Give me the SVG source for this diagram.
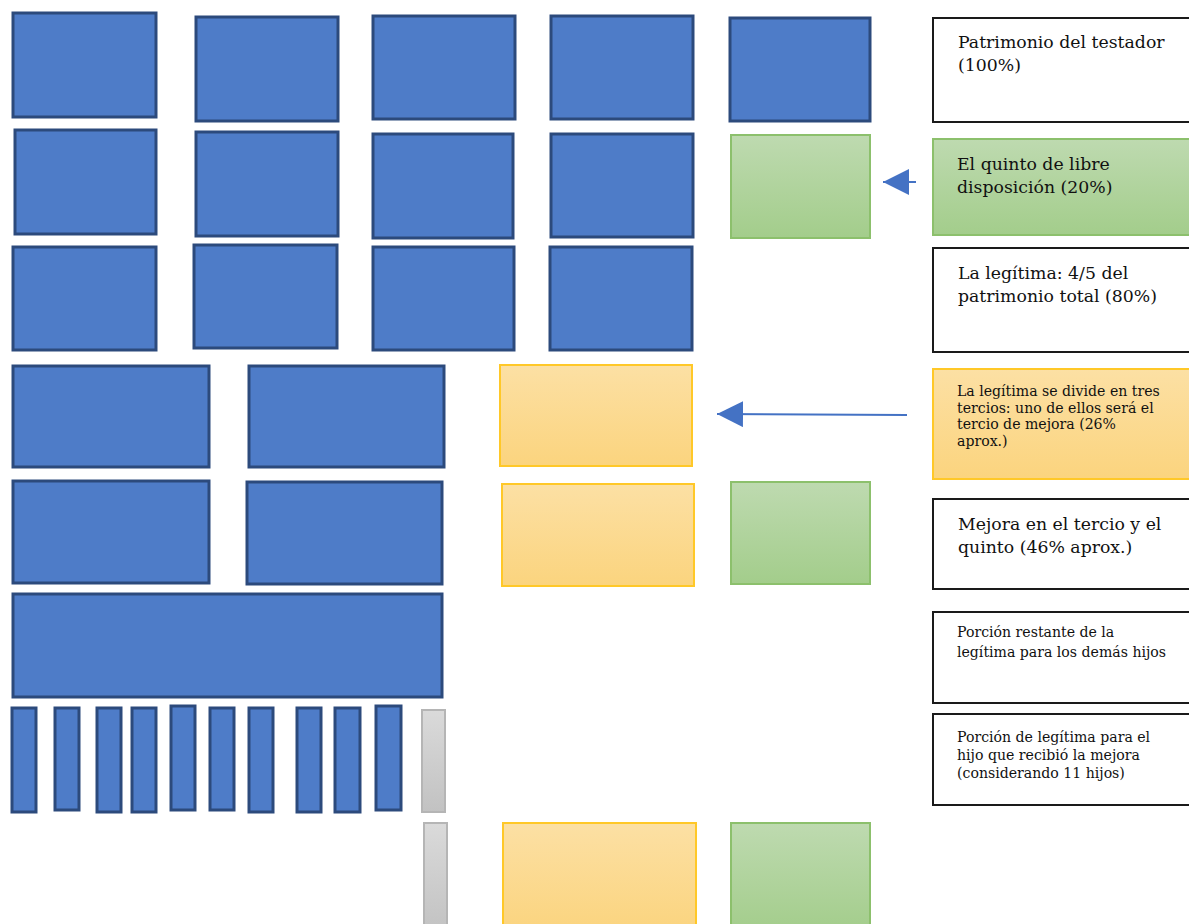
<svg xmlns="http://www.w3.org/2000/svg" width="1189" height="924" viewBox="0 0 1189 924">
<style>
.b{fill:#4E7CC8;stroke:#2C4A7C;stroke-width:3}
.g{fill:url(#gg);stroke:#8CC06C;stroke-width:2}
.y{fill:url(#gy);stroke:#FFC828;stroke-width:2}
.s{fill:url(#gs);stroke:#B5B5B5;stroke-width:2}
.w{fill:#fff;stroke:#1a1a1a;stroke-width:2}
.t{font-family:"DejaVu Serif","Liberation Serif",serif;font-size:17.3px;fill:#111}
.ts{font-family:"DejaVu Serif","Liberation Serif",serif;font-size:14.1px;fill:#111}
.c{stroke:#4472C4;stroke-width:2;fill:none}
</style>
<defs>
<linearGradient id="gg" x1="0" y1="0" x2="0" y2="1"><stop offset="0" stop-color="#BEDAB0"/><stop offset="1" stop-color="#A3CD8B"/></linearGradient>
<linearGradient id="gy" x1="0" y1="0" x2="0" y2="1"><stop offset="0" stop-color="#FCE0A4"/><stop offset="1" stop-color="#FBD47E"/></linearGradient>
<linearGradient id="gs" x1="0" y1="0" x2="0" y2="1"><stop offset="0" stop-color="#DADADA"/><stop offset="1" stop-color="#C2C2C2"/></linearGradient>
<marker id="ah" markerUnits="userSpaceOnUse" markerWidth="28" markerHeight="26" refX="26" refY="13" orient="auto"><path d="M0,0 L26,13 L0,26 Z" fill="#4472C4"/></marker>
</defs>

<g id="r1c1"><rect class="b" x="13" y="13" width="143" height="104"/></g>
<g id="r1c2"><rect class="b" x="196" y="17" width="142" height="104"/></g>
<g id="r1c3"><rect class="b" x="373" y="16" width="142" height="103"/></g>
<g id="r1c4"><rect class="b" x="551" y="16" width="142" height="103"/></g>
<g id="r1c5"><rect class="b" x="730" y="18" width="140" height="103"/></g>

<g id="r2c1"><rect class="b" x="15" y="130" width="141" height="104"/></g>
<g id="r2c2"><rect class="b" x="196" y="132" width="142" height="104"/></g>
<g id="r2c3"><rect class="b" x="373" y="134" width="140" height="104"/></g>
<g id="r2c4"><rect class="b" x="551" y="134" width="142" height="103"/></g>
<g id="r2c5"><rect class="g" x="731" y="135" width="139" height="103"/></g>

<g id="r3c1"><rect class="b" x="13" y="247" width="143" height="103"/></g>
<g id="r3c2"><rect class="b" x="194" y="245" width="143" height="103"/></g>
<g id="r3c3"><rect class="b" x="373" y="247" width="141" height="103"/></g>
<g id="r3c4"><rect class="b" x="550" y="247" width="142" height="103"/></g>

<g id="r4c1"><rect class="b" x="13" y="366" width="196" height="101"/></g>
<g id="r4c2"><rect class="b" x="249" y="366" width="195" height="101"/></g>
<g id="r4c3"><rect class="y" x="500" y="365" width="192" height="101"/></g>

<g id="r5c1"><rect class="b" x="13" y="481" width="196" height="102"/></g>
<g id="r5c2"><rect class="b" x="247" y="482" width="195" height="102"/></g>
<g id="r5c3"><rect class="y" x="502" y="484" width="192" height="102"/></g>
<g id="r5c4"><rect class="g" x="731" y="482" width="139" height="102"/></g>

<g id="r6"><rect class="b" x="13" y="594" width="429" height="103"/></g>

<g id="bar1"><rect class="b" x="12" y="708" width="24" height="104"/></g>
<g id="bar2"><rect class="b" x="55" y="708" width="24" height="102"/></g>
<g id="bar3"><rect class="b" x="97" y="708" width="24" height="104"/></g>
<g id="bar4"><rect class="b" x="132" y="708" width="24" height="104"/></g>
<g id="bar5"><rect class="b" x="171" y="706" width="24" height="104"/></g>
<g id="bar6"><rect class="b" x="210" y="708" width="24" height="102"/></g>
<g id="bar7"><rect class="b" x="249" y="708" width="24" height="104"/></g>
<g id="bar8"><rect class="b" x="297" y="708" width="24" height="104"/></g>
<g id="bar9"><rect class="b" x="335" y="708" width="25" height="104"/></g>
<g id="bar10"><rect class="b" x="376" y="706" width="25" height="104"/></g>
<g id="grey1"><rect class="s" x="422" y="710" width="23" height="102"/></g>
<g id="grey2"><rect class="s" x="424" y="823" width="23" height="110"/></g>

<g id="r8c3"><rect class="y" x="503" y="823" width="193" height="110"/></g>
<g id="r8c4"><rect class="g" x="731" y="823" width="139" height="110"/></g>

<g id="t1"><rect class="w" x="933" y="18" width="270" height="104"/>
<text class="t" x="958" y="48">Patrimonio del testador</text>
<text class="t" x="958" y="71">(100%)</text></g>

<g id="t2"><rect class="g" x="933" y="139" width="270" height="96"/>
<text class="t" x="957" y="170">El quinto de libre</text>
<text class="t" x="957" y="193">disposición (20%)</text></g>

<g id="t3"><rect class="w" x="933" y="248" width="270" height="104"/>
<text class="t" x="958" y="279">La legítima: 4/5 del</text>
<text class="t" x="958" y="302">patrimonio total (80%)</text></g>

<g id="t4"><rect class="y" x="933" y="369" width="270" height="110"/>
<text class="ts" x="957" y="396">La legítima se divide en tres</text>
<text class="ts" x="957" y="413">tercios: uno de ellos será el</text>
<text class="ts" x="957" y="429">tercio de mejora (26%</text>
<text class="ts" x="957" y="446">aprox.)</text></g>

<g id="t5"><rect class="w" x="933" y="499" width="270" height="90"/>
<text class="t" x="958" y="530">Mejora en el tercio y el</text>
<text class="t" x="958" y="553">quinto (46% aprox.)</text></g>

<g id="t6"><rect class="w" x="933" y="612" width="270" height="91"/>
<text class="ts" x="957" y="637">Porción restante de la</text>
<text class="ts" x="957" y="657">legítima para los demás hijos</text></g>

<g id="t7"><rect class="w" x="933" y="714" width="270" height="91"/>
<text class="ts" x="957" y="742">Porción de legítima para el</text>
<text class="ts" x="957" y="760">hijo que recibió la mejora</text>
<text class="ts" x="957" y="778">(considerando 11 hijos)</text></g>

<g id="connectors">
<line class="c" x1="916" y1="182" x2="883" y2="182" marker-end="url(#ah)"/>
<line class="c" x1="907" y1="415" x2="717" y2="414" marker-end="url(#ah)"/>
</g>
</svg>
